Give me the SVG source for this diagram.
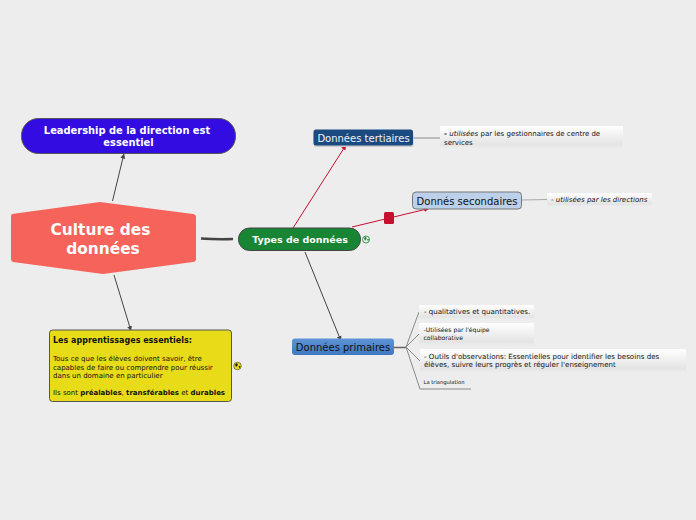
<svg xmlns="http://www.w3.org/2000/svg" width="696" height="520" viewBox="0 0 696 520">
<defs>
<linearGradient id="sub" x1="0" y1="0" x2="0" y2="1"><stop offset="0" stop-color="#ffffff"/><stop offset="0.85" stop-color="#e4e4e4"/><stop offset="1" stop-color="#ececec"/></linearGradient>
<linearGradient id="prim" x1="0" y1="0" x2="0" y2="1"><stop offset="0" stop-color="#5e94d6"/><stop offset="1" stop-color="#3f78c2"/></linearGradient>
<marker id="ad" markerWidth="6" markerHeight="6" refX="5" refY="3" orient="auto" markerUnits="userSpaceOnUse"><path d="M0,0.5L5,3L0,5.5z" fill="#444"/></marker>
<marker id="ar" markerWidth="6" markerHeight="6" refX="5" refY="3" orient="auto" markerUnits="userSpaceOnUse"><path d="M0,0.5L5,3L0,5.5z" fill="#c5102f"/></marker>
</defs>
<style>
text{font-family:"DejaVu Sans",sans-serif;fill:#111}
.c{text-anchor:middle}
.dark{fill:none;stroke:#444;stroke-width:1}
.red{fill:none;stroke:#c5102f;stroke-width:1}
.sp{fill:none;stroke:#8a8a8a;stroke-width:1}
.sm{font-size:7px}
.note{font-size:7px}
.glob{stroke:#222;stroke-width:.5}
</style>
<rect width="696" height="520" fill="#ededed"/>
<g id="connectors">
<path class="dark" d="M112.500 201L124 153.500" marker-end="url(#ad)"/>
<path class="dark" d="M114 275L131 331" marker-end="url(#ad)"/>
<path d="M201 238.500Q216 239.500 233 239" fill="none" stroke="#444" stroke-width="2.500"/>
<path class="red" d="M293 228L346 145" marker-end="url(#ar)"/>
<path class="red" d="M352 227L429 208.500" marker-end="url(#ar)"/>
<path class="dark" d="M305 252L341 341" marker-end="url(#ad)"/>
<path class="sp" d="M413 138H440"/>
<path d="M522 200L547 199.500" fill="none" stroke="#aaa" stroke-width="1"/>
<path d="M394 347.500H406" fill="none" stroke="#666" stroke-width="1.500"/>
<path class="sp" d="M406 347L419 312M406 347L419 334M406 347L420 361M406 347L420 389H471"/>
</g>
<g id="n-culture"><path d="M12 214L100 202L193 214Q196 214.500 196 217V259Q196 261.500 193 262L103 274L13 262Q11 261.500 11 259V217Q11 214.500 12 214z" fill="#f5635a"/><text class="c" x="100.500" y="234.500" font-size="15.400" font-weight="700" style="fill:#fff">Culture des</text><text class="c" x="103" y="254" font-size="15.400" font-weight="700" style="fill:#fff">données</text></g>
<g id="n-leadership"><rect x="21.500" y="118.500" width="214" height="35" rx="17" fill="#320ce0" stroke="#555" stroke-width="1"/><text class="c" x="127" y="134" font-size="9.900" font-weight="700" style="fill:#fff">Leadership de la direction est</text><text class="c" x="128.500" y="146" font-size="9.900" font-weight="700" style="fill:#fff">essentiel</text></g>
<g id="n-apprentissages"><rect x="49.500" y="330" width="182" height="71.500" rx="3" fill="#e8dc18" stroke="#555" stroke-width="1"/>
<text x="53" y="343" font-size="8px" font-weight="700">Les apprentissages essentiels:</text>
<text x="53" y="360.500" class="sm">Tous ce que les élèves doivent savoir, être</text>
<text x="53" y="369.500" class="sm">capables de faire ou comprendre pour réussir</text>
<text x="53" y="377.500" class="sm">dans un domaine en particulier</text>
<text x="53" y="394.500" class="sm">Ils sont <tspan font-weight="700">préalables</tspan>, <tspan font-weight="700">transférables</tspan> et <tspan font-weight="700">durables</tspan></text>
<circle class="glob" cx="237.500" cy="366" r="3.800" fill="#e8dc18"/><path d="M235 364.500l2-1.500 1 2-2 2zM238.500 366l2 0-1 2.500z" fill="#222"/></g>
<g id="n-types"><rect x="238.500" y="228" width="122" height="22.500" rx="11" fill="#178534" stroke="#444" stroke-width="1"/><text class="c" x="300" y="243" font-size="9.500" font-weight="700" style="fill:#fff">Types de données</text>
<circle cx="366" cy="239.500" r="3.500" fill="#eee" stroke="#178534" stroke-width=".8"/><path d="M364 238l2-1.500 .5 2-1.500 2.500zM367 239l2 0-1 2.500z" fill="#178534"/>
<rect x="384" y="212" width="10" height="12" rx="1.500" fill="#c5102f"/></g>
<g id="n-tertiaires"><rect x="313.500" y="131" width="100" height="16" rx="2.500" fill="#ccc"/><rect x="313.500" y="129.500" width="99.500" height="16" rx="2.500" fill="#1b4a80"/><text class="c" x="363.500" y="141.500" font-size="10" style="fill:#f2f2f2">Données tertiaires</text></g>
<g id="n-secondaires"><rect x="412.500" y="192" width="109" height="17" rx="3.500" fill="#bcd0ea" stroke="#777" stroke-width="1"/><text class="c" x="467" y="204.500" font-size="10">Donnés secondaires</text></g>
<g id="n-primaires"><rect x="292" y="338.500" width="102" height="16.500" rx="3" fill="url(#prim)"/><text class="c" x="343" y="351" font-size="10">Données primaires</text></g>
<g id="s-tertiaires"><rect x="440" y="126" width="183" height="22" fill="url(#sub)"/><text x="444" y="136" class="note"><tspan font-weight="700">- </tspan><tspan font-style="italic">utilisées</tspan> par les gestionnaires de centre de</text><text x="444" y="144.500" class="note">services</text></g>
<g id="s-secondaires"><rect x="547" y="193" width="105" height="13" fill="url(#sub)"/><text x="551" y="202" class="note" font-style="italic">- utilisées par les directions</text></g>
<g id="s-qualitatives"><rect x="419" y="305" width="115" height="14" fill="url(#sub)"/><text x="424" y="314" font-size="7.050">- qualitatives et quantitatives.</text></g>
<g id="s-equipe"><rect x="419" y="323" width="115" height="22" fill="url(#sub)"/><text x="423.500" y="332" font-size="6.100">-Utilisées par l'équipe</text><text x="423.500" y="340" font-size="6.100">collaborative</text></g>
<g id="s-outils"><rect x="420" y="349" width="266" height="23" fill="url(#sub)"/><text x="424" y="359" font-size="7.100">- Outils d'observations: Essentielles pour identifier les besoins des</text><text x="424" y="367" font-size="7.100">élèves, suivre leurs progrès  et réguler l'enseignement</text></g>
<g id="s-triangulation"><text x="423.500" y="384" font-size="5.200">La triangulation</text></g>
</svg>
